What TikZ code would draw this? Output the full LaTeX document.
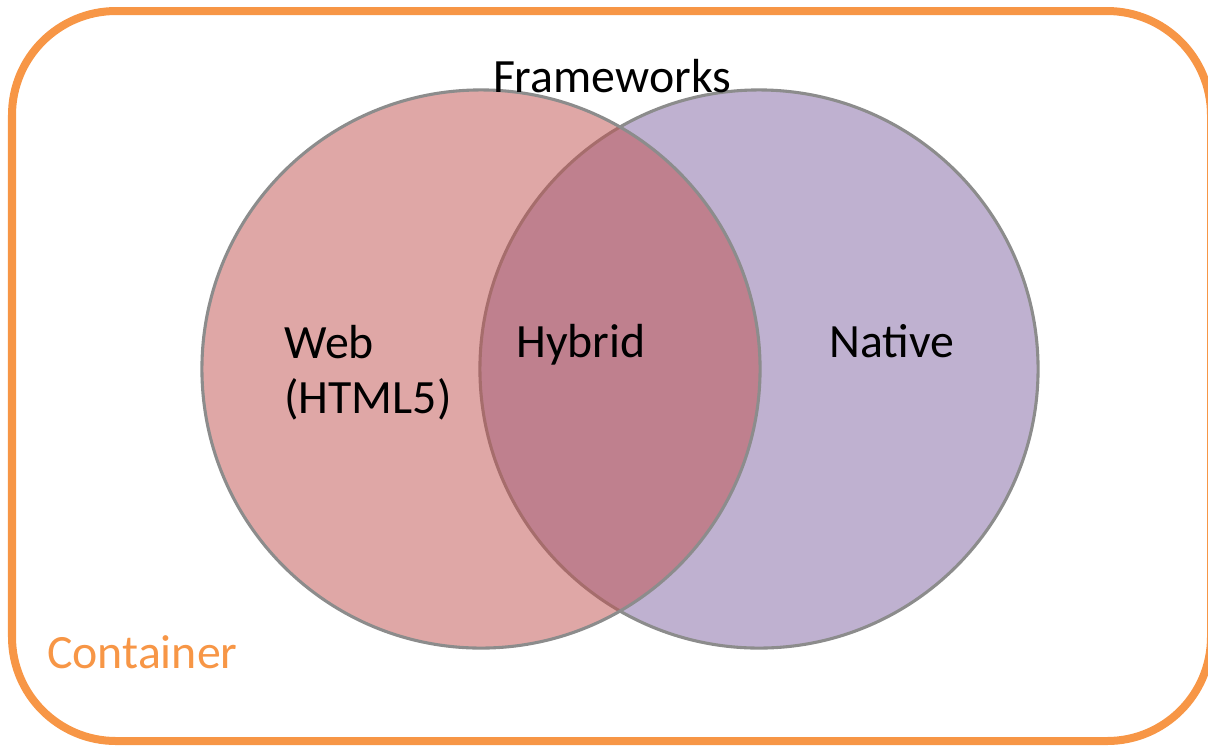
\documentclass[tikz,border=0pt]{standalone}
\usepackage{fontspec}
\setmainfont{Carlito}
\definecolor{containerorange}{HTML}{F79646}
\definecolor{webred}{HTML}{C0504D}
\definecolor{nativepurple}{HTML}{8064A2}
\definecolor{setgray}{RGB}{140,140,140}
\begin{document}
\begin{tikzpicture}[x=0.025cm,y=-0.025cm]
  \tikzset{set/.style={shape=circle,minimum size=13.95cm,inner sep=0pt,draw=setgray,line width=2.2pt,fill opacity=0.5},
    lbl/.style={inner sep=0pt,font=\fontsize{34}{39}\selectfont}};
  \useasboundingbox (0,0) rectangle (1208,746);
  \draw[containerorange,line width=0.2cm,rounded corners=2.6cm] (12,11) rectangle (1211,741);
  \node[set,fill=nativepurple](Nat) at (759,369){};
  \node[set,fill=webred](Web) at (481,369){};
  \node[lbl,anchor=base](Fw) at (612,92){Frameworks};
  \node[lbl,anchor=base west,align=left](WebTxt) at (284,413){Web\\(HTML5)};
  \node[lbl,anchor=base](Hyb) at (581,357){Hybrid};
  \node[lbl,anchor=base](NatTxt) at (892,357){Native};
  \node[lbl,anchor=base west,text=containerorange](Cont) at (47,668){Container};
\end{tikzpicture}
\end{document}
